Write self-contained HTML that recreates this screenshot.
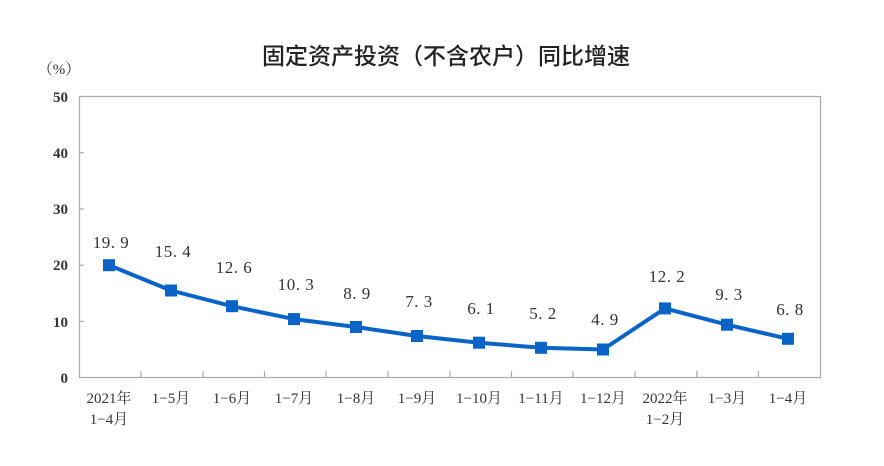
<!DOCTYPE html>
<html><head><meta charset="utf-8"><style>body{margin:0;background:#fff}svg{display:block}</style></head><body>
<svg width="884" height="466" xmlns="http://www.w3.org/2000/svg">
<rect width="884" height="466" fill="#fff"/>
<text x="446" y="64" text-anchor="middle" font-family="Noto Sans CJK SC, sans-serif" font-size="23" fill="#222" font-weight="500">固定资产投资（不含农户）同比增速</text>
<text x="59" y="74" text-anchor="middle" font-family="Liberation Serif, Noto Serif CJK SC, serif" font-size="15" fill="#333">（%）</text>
<rect x="79.5" y="96.5" width="741" height="281" fill="none" stroke="#aaa" stroke-width="1.2"/>
<g stroke="#aaa" stroke-width="1.2">
<line x1="79" y1="152.8" x2="84" y2="152.8"/><line x1="79" y1="209" x2="84" y2="209"/><line x1="79" y1="265.2" x2="84" y2="265.2"/><line x1="79" y1="321.4" x2="84" y2="321.4"/>
<line x1="141" y1="377" x2="141" y2="371"/><line x1="203" y1="377" x2="203" y2="371"/><line x1="264.5" y1="377" x2="264.5" y2="371"/><line x1="326" y1="377" x2="326" y2="371"/><line x1="388" y1="377" x2="388" y2="371"/><line x1="450" y1="377" x2="450" y2="371"/><line x1="511.5" y1="377" x2="511.5" y2="371"/><line x1="573" y1="377" x2="573" y2="371"/><line x1="635" y1="377" x2="635" y2="371"/><line x1="697" y1="377" x2="697" y2="371"/><line x1="758.5" y1="377" x2="758.5" y2="371"/>
</g>
<g font-family="Liberation Serif, serif" font-size="15" font-weight="bold" fill="#333" text-anchor="end">
<text x="68" y="102">50</text><text x="68" y="158">40</text><text x="68" y="214">30</text><text x="68" y="270">20</text><text x="68" y="327">10</text><text x="68" y="383">0</text>
</g>
<polyline fill="none" stroke="#0a64c8" stroke-width="4" stroke-linejoin="round" points="109,265.2 171,290.5 232,306.2 294,319.1 356,327 417,336 479,342.7 541,347.8 603,349.5 665,308.4 727,324.7 788,338.8"/>
<g fill="#0a64c8">
<rect x="103" y="259.2" width="12" height="12"/><rect x="165" y="284.5" width="12" height="12"/><rect x="226" y="300.2" width="12" height="12"/><rect x="288" y="313.1" width="12" height="12"/><rect x="350" y="321" width="12" height="12"/><rect x="411" y="330" width="12" height="12"/><rect x="473" y="336.7" width="12" height="12"/><rect x="535" y="341.8" width="12" height="12"/><rect x="597" y="343.5" width="12" height="12"/><rect x="659" y="302.4" width="12" height="12"/><rect x="721" y="318.7" width="12" height="12"/><rect x="782" y="332.8" width="12" height="12"/>
</g>
<g font-family="Liberation Serif, serif" font-size="17" fill="#333" text-anchor="middle" letter-spacing="0.5">
<text x="111" y="248">19. 9</text><text x="173" y="257">15. 4</text><text x="234" y="273">12. 6</text><text x="296" y="290">10. 3</text><text x="357" y="299">8. 9</text><text x="419" y="307">7. 3</text><text x="481" y="314">6. 1</text><text x="543" y="319">5. 2</text><text x="605" y="325">4. 9</text><text x="667" y="282">12. 2</text><text x="729" y="300">9. 3</text><text x="790" y="315">6. 8</text>
</g>
<g font-family="Liberation Serif, Noto Serif CJK SC, serif" font-size="15" fill="#333" text-anchor="middle">
<text x="109" y="403">2021年</text><text x="109" y="424">1−4月</text>
<text x="171" y="403">1−5月</text><text x="232" y="403">1−6月</text><text x="294" y="403">1−7月</text><text x="356" y="403">1−8月</text><text x="417" y="403">1−9月</text><text x="479" y="403">1−10月</text><text x="541" y="403">1−11月</text><text x="603" y="403">1−12月</text>
<text x="665" y="403">2022年</text><text x="665" y="424">1−2月</text>
<text x="727" y="403">1−3月</text><text x="788" y="403">1−4月</text>
</g>
</svg>
</body></html>
